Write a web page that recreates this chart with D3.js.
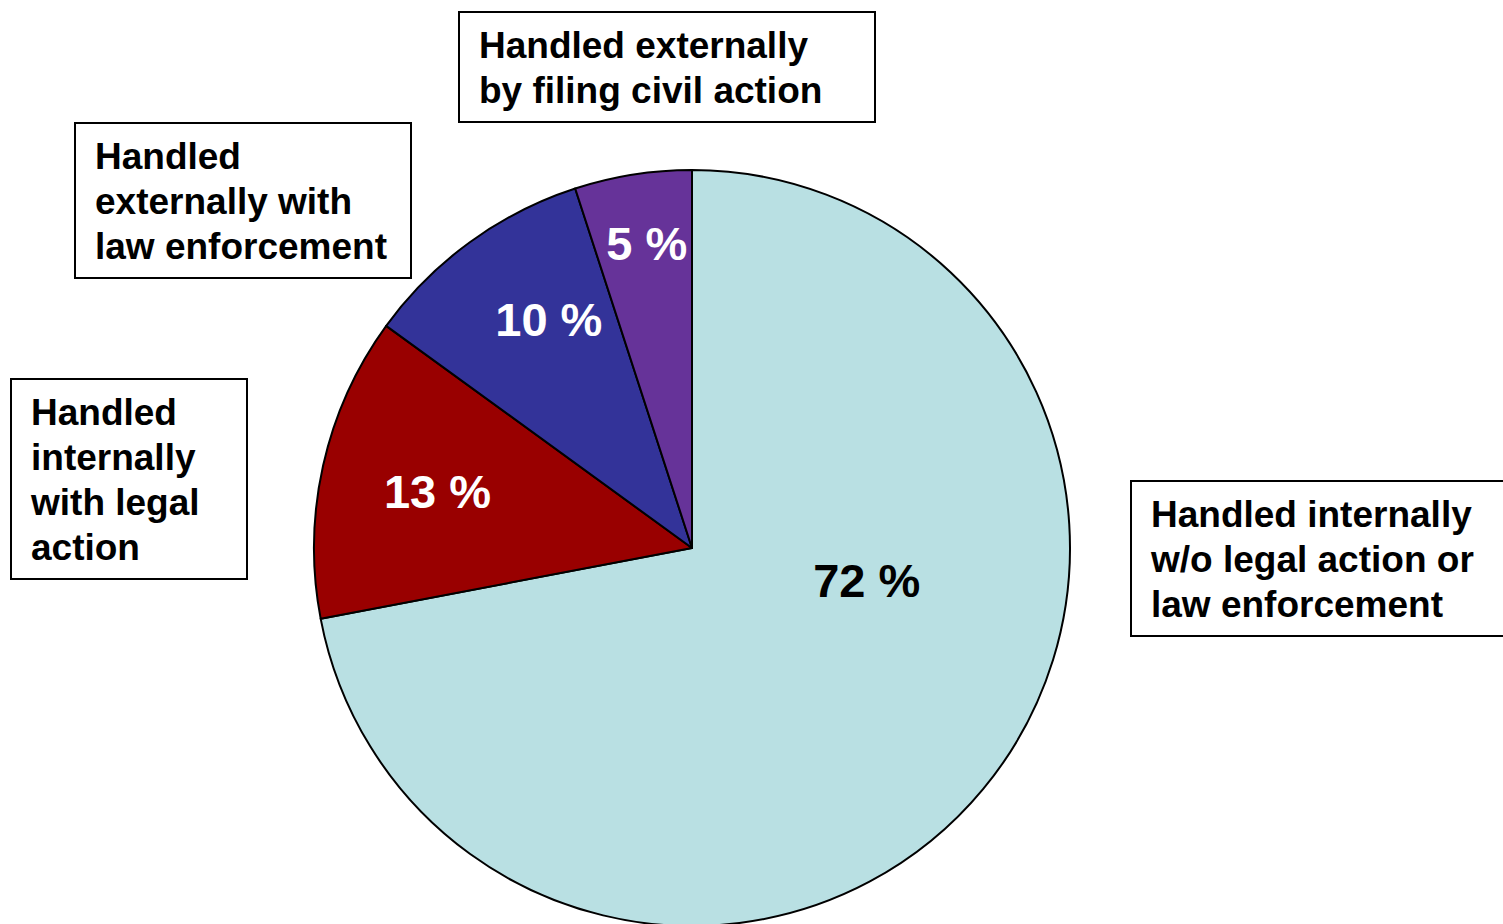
<!DOCTYPE html>
<html><head><meta charset="utf-8">
<script src="https://cdn.jsdelivr.net/npm/d3@7"></script>
<style>html,body{margin:0;padding:0;background:#fff;overflow:hidden}</style>
</head><body>
<svg id="chart" width="1503" height="924"></svg>
<script>
// ---- data ----
const categories = [
  "Handled internally w/o legal action or law enforcement",
  "Handled internally with legal action",
  "Handled externally with law enforcement",
  "Handled externally by filing civil action"
];
const values = [72, 13, 10, 5];
const valueLabels = ["72 %", "13 %", "10 %", "5 %"];
const colors = ["#B9E0E3", "#990000", "#333399", "#663399"];
const labelColors = ["#000", "#fff", "#fff", "#fff"];
const boxLines = [
  ["Handled internally", "w/o legal action or", "law enforcement"],
  ["Handled", "internally", "with legal", "action"],
  ["Handled", "externally with", "law enforcement"],
  ["Handled externally", "by filing civil action"]
];

// ---- layout (not data) ----
const W = 1503, H = 924;
const cx = 692, cy = 548, R = 378;
const font = "'Liberation Sans', Arial, sans-serif";
// label placement: [angle offset from slice mid (radians), radius fraction]
const labelPlace = [[-0.51, 0.47], [0, 0.69], [0.07, 0.715], [0.01, 0.815]];
// category boxes: x, y, w, h
const boxes = [
  [1131, 481, 380, 155],
  [11, 379, 236, 200],
  [75, 123, 336, 155],
  [459, 12, 416, 110]
];

const svg = d3.select("#chart");
const g = svg.append("g").attr("transform", `translate(${cx},${cy})`);

const pie = d3.pie().sort(null).value(d => d)(values);
const arc = d3.arc().innerRadius(0).outerRadius(R);

g.selectAll("path.slice").data(pie).join("path")
  .attr("class", "slice")
  .attr("d", arc)
  .attr("fill", (d, i) => colors[i])
  .attr("stroke", "#000")
  .attr("stroke-width", 2)
  .attr("stroke-linejoin", "round");

g.selectAll("text.pct").data(pie).join("text")
  .attr("class", "pct")
  .attr("x", (d, i) => {
    const a = (d.startAngle + d.endAngle) / 2 + labelPlace[i][0];
    return Math.sin(a) * R * labelPlace[i][1];
  })
  .attr("y", (d, i) => {
    const a = (d.startAngle + d.endAngle) / 2 + labelPlace[i][0];
    return -Math.cos(a) * R * labelPlace[i][1];
  })
  .attr("dy", "0.36em")
  .attr("text-anchor", "middle")
  .attr("font-family", font)
  .attr("font-weight", "bold")
  .attr("font-size", 47)
  .attr("fill", (d, i) => labelColors[i])
  .text((d, i) => valueLabels[i]);

// category boxes
const bg = svg.selectAll("g.box").data(categories).join("g").attr("class", "box");
bg.append("rect")
  .attr("x", (d, i) => boxes[i][0])
  .attr("y", (d, i) => boxes[i][1])
  .attr("width", (d, i) => boxes[i][2])
  .attr("height", (d, i) => boxes[i][3])
  .attr("fill", "#fff")
  .attr("stroke", "#000")
  .attr("stroke-width", 2);
bg.each(function(d, i) {
  const t = d3.select(this).append("text")
    .attr("font-family", font)
    .attr("font-weight", "bold")
    .attr("font-size", 37)
    .attr("fill", "#000");
  boxLines[i].forEach((line, j) => {
    t.append("tspan")
      .attr("x", boxes[i][0] + 20)
      .attr("y", boxes[i][1] + 46 + j * 45)
      .text(line);
  });
});
</script>
</body></html>
